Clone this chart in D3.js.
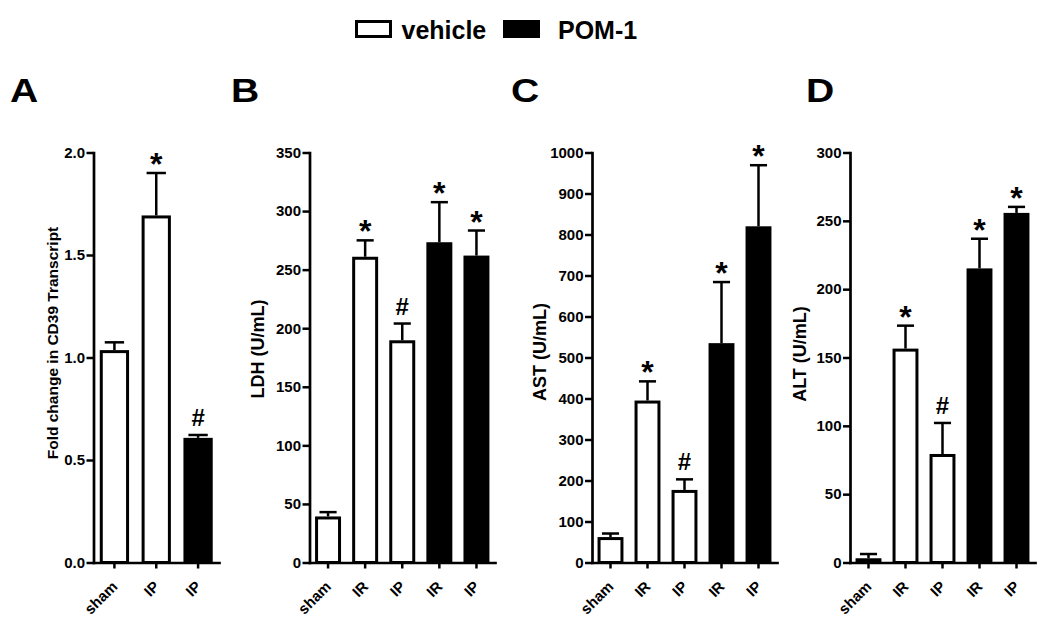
<!DOCTYPE html>
<html><head><meta charset="utf-8">
<script src="https://cdn.jsdelivr.net/npm/d3@7"></script>
<style>
body{margin:0;background:#fff}
svg{display:block}
text{font-family:"Liberation Sans",Arial,Helvetica,sans-serif;font-weight:bold;fill:#000}
</style>
</head><body>
<svg id="chart" width="1050" height="625"></svg>
<script>
// ---------- data ----------
const legendLabels = ["vehicle", "POM-1"];
const panelLetters = ["A", "B", "C", "D"];
const yTitles = ["Fold change in CD39 Transcript", "LDH (U/mL)", "AST (U/mL)", "ALT (U/mL)"];

const catsA = ["sham", "IP", "IP"];
const groupA = ["vehicle", "vehicle", "POM-1"];
const meanA = [1.036, 1.693, 0.608];
const semA = [0.038, 0.207, 0.014];
const sigA = ["", "*", "#"];
const ticksA = [0, 0.5, 1.0, 1.5, 2.0];

const cats5 = ["sham", "IR", "IP", "IR", "IP"];
const group5 = ["vehicle", "vehicle", "vehicle", "POM-1", "POM-1"];
const sig5 = ["", "*", "#", "*", "*"];

const meanLDH = [39.3, 261, 189.7, 273.4, 262];
const semLDH = [3.7, 14, 14.3, 34.2, 21.4];
const ticksLDH = [0, 50, 100, 150, 200, 250, 300, 350];

const meanAST = [62, 395, 177, 535, 820];
const semAST = [8.7, 46.8, 25.8, 149, 149];
const ticksAST = [0, 100, 200, 300, 400, 500, 600, 700, 800, 900, 1000];

const meanALT = [3.1, 156.5, 79.4, 215.2, 255.8];
const semALT = [3.1, 16.8, 22.7, 21.7, 4.4];
const ticksALT = [0, 50, 100, 150, 200, 250, 300];

// ---------- layout ----------
const svg = d3.select("#chart");
const Y0 = 562.5, YTOP = 152.5;
const FONT = "'Liberation Sans',Arial,Helvetica,sans-serif";
const fill = d3.scaleOrdinal().domain(legendLabels).range(["#fff", "#000"]);

const panels = [
  {cats: catsA, group: groupA, mean: meanA, sem: semA, sig: sigA, ticks: ticksA, fmt: d3.format(".1f"),
   x0: 93.5, x1: 219, titleX: 52, titleY: 343, titleSize: 15.5, letterX: 10},
  {cats: cats5, group: group5, mean: meanLDH, sem: semLDH, sig: sig5, ticks: ticksLDH, fmt: d3.format("d"),
   x0: 309.5, x1: 495, titleX: 258, titleY: 349, titleSize: 18, letterX: 231},
  {cats: cats5, group: group5, mean: meanAST, sem: semAST, sig: sig5, ticks: ticksAST, fmt: d3.format("d"),
   x0: 592, x1: 777, titleX: 540, titleY: 352, titleSize: 18, letterX: 511},
  {cats: cats5, group: group5, mean: meanALT, sem: semALT, sig: sig5, ticks: ticksALT, fmt: d3.format("d"),
   x0: 850, x1: 1035, titleX: 800, titleY: 354, titleSize: 18, letterX: 806}
];

panels.forEach((p, pi) => {
  const g = svg.append("g");
  const y = d3.scaleLinear().domain([0, d3.max(p.ticks)]).range([Y0, YTOP]);
  const x = d3.scaleBand().domain(d3.range(p.cats.length)).range([p.x0, p.x1])
    .paddingInner(0.3).paddingOuter(0.15);
  const bw = x.bandwidth();

  // bars
  g.selectAll("rect.bar").data(p.mean).join("rect")
    .attr("class", "bar")
    .attr("x", (d, i) => x(i) + 1.5)
    .attr("y", d => y(d) + 1.5)
    .attr("width", bw - 3)
    .attr("height", d => Y0 - y(d) - 1.5)
    .attr("fill", (d, i) => fill(p.group[i]))
    .attr("stroke", "#000").attr("stroke-width", 3);

  // error bars (upper only)
  const eb = g.selectAll("g.err").data(p.mean).join("g").attr("class", "err");
  eb.append("line")
    .attr("x1", (d, i) => x(i) + bw / 2).attr("x2", (d, i) => x(i) + bw / 2)
    .attr("y1", d => y(d)).attr("y2", (d, i) => y(d + p.sem[i]))
    .attr("stroke", "#000").attr("stroke-width", 2.5);
  eb.append("line")
    .attr("x1", (d, i) => x(i) + bw / 2 - bw * 0.33).attr("x2", (d, i) => x(i) + bw / 2 + bw * 0.33)
    .attr("y1", (d, i) => y(d + p.sem[i])).attr("y2", (d, i) => y(d + p.sem[i]))
    .attr("stroke", "#000").attr("stroke-width", 2.5);

  // significance marks
  g.selectAll("text.sig").data(p.sig).join("text")
    .attr("class", "sig")
    .attr("text-anchor", "middle")
    .attr("x", (d, i) => x(i) + bw / 2)
    .attr("y", (d, i) => d === "*" ? y(p.mean[i] + p.sem[i]) + 2 : y(p.mean[i] + p.sem[i]) - 9)
    .style("font-size", d => d === "*" ? "32px" : "24px")
    .text(d => d);

  // y axis
  const ya = g.append("g").attr("transform", `translate(${p.x0},0)`)
    .call(d3.axisLeft(y).tickValues(p.ticks).tickSize(7).tickPadding(1.5).tickSizeOuter(0).tickFormat(p.fmt));
  ya.attr("font-size", null).attr("font-family", null);
  ya.select(".domain").attr("stroke-width", 2.7).attr("stroke-linecap", "square");
  ya.selectAll(".tick line").attr("stroke-width", 2.5);
  ya.selectAll(".tick text")
    .style("font-size", "15px").style("font-weight", "bold").style("font-family", FONT);

  // x axis
  const xa = g.append("g").attr("transform", `translate(0,${Y0})`)
    .call(d3.axisBottom(x).tickSize(6).tickSizeOuter(0).tickFormat(i => p.cats[i]));
  xa.attr("font-size", null).attr("font-family", null);
  xa.select(".domain").attr("stroke-width", 2.7).attr("stroke-linecap", "square");
  xa.selectAll(".tick line").attr("stroke-width", 2.5);
  xa.selectAll(".tick text")
    .attr("x", 0).attr("y", 0).attr("dy", 0)
    .attr("text-anchor", "end")
    .attr("transform", "translate(4,25) rotate(-45)")
    .style("font-size", "15px").style("font-weight", "bold").style("font-family", FONT);

  // y title
  g.append("text")
    .attr("transform", `translate(${p.titleX},${p.titleY}) rotate(-90)`)
    .attr("text-anchor", "middle").attr("dy", "0.36em")
    .style("font-size", p.titleSize + "px")
    .text(yTitles[pi]);

  // panel letter
  g.append("text").attr("transform", `translate(${p.letterX},102) scale(1.15,1)`)
    .style("font-size", "34px").style("font-weight", "900").text(panelLetters[pi]);
});

// legend
const leg = svg.append("g");
const legX = [355, 503];
const legTextX = [401.5, 558];
legendLabels.forEach((l, i) => {
  leg.append("rect")
    .attr("x", legX[i] + 1.5).attr("y", 21.5).attr("width", 34).attr("height", 15)
    .attr("fill", fill(l)).attr("stroke", "#000").attr("stroke-width", 3);
  leg.append("text").attr("x", legTextX[i]).attr("y", 38.5)
    .style("font-size", "25px").text(l);
});
</script>
</body></html>
